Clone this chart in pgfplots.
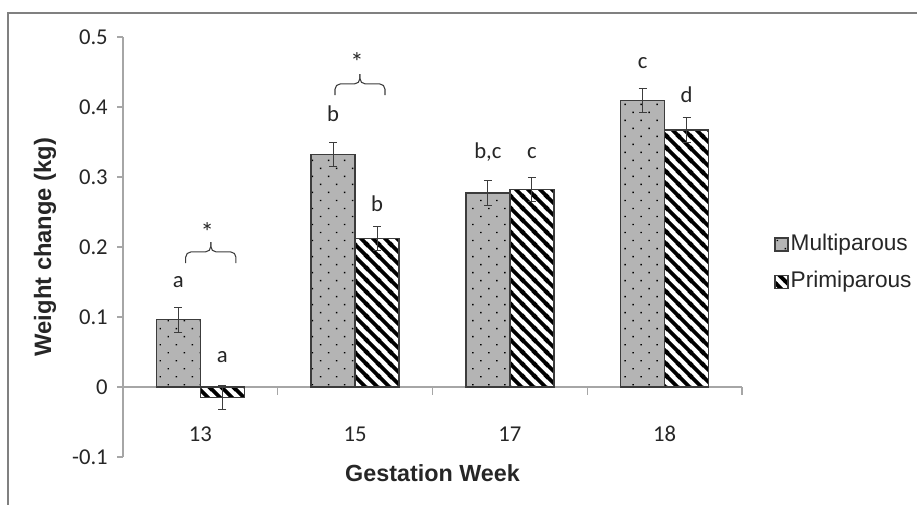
\documentclass[border=0pt]{standalone}
\usepackage{pgfplots}
\usepackage{pgfplotstable}
\pgfplotsset{compat=1.18}
\usepackage{fontspec}
\setmainfont{Carlito}
\newfontfamily\arial{Liberation Sans}
\usetikzlibrary{patterns.meta}
\definecolor{barGray}{HTML}{B4B4B4}
\definecolor{edge}{HTML}{3C3C3C}
\definecolor{axGray}{HTML}{A6A6A6}
\definecolor{frameGray}{HTML}{808080}
\definecolor{txt}{HTML}{262626}

\pgfdeclarepattern{
  name=wstripes, type=uncolored,
  bottom left={\pgfpoint{0pt}{0pt}}, top right={\pgfpoint{8.8pt}{8.8pt}},
  tile size={\pgfpoint{8.8pt}{8.8pt}},
  code={
    \pgfsetlinewidth{2.9pt}
    \pgfpathmoveto{\pgfpoint{-4.4pt}{4.4pt}}\pgfpathlineto{\pgfpoint{4.4pt}{-4.4pt}}
    \pgfpathmoveto{\pgfpoint{-0.5pt}{9.3pt}}\pgfpathlineto{\pgfpoint{9.3pt}{-0.5pt}}
    \pgfpathmoveto{\pgfpoint{4.4pt}{13.2pt}}\pgfpathlineto{\pgfpoint{13.2pt}{4.4pt}}
    \pgfusepath{stroke}
  }
}

\pgfplotstableread{
x y e
0 0.096 0.0175
1 0.332 0.0175
2 0.277 0.0175
3 0.409 0.0175
}\multi
\pgfplotstableread{
x y e
0 -0.015 0.0175
1 0.212 0.0175
2 0.282 0.0175
3 0.367 0.0175
}\primi

\begin{document}
\begin{tikzpicture}
\path[use as bounding box] (-92.25pt,-36pt) rectangle (595.5pt,342.75pt);
\draw[frameGray, line width=0.8pt] (-86.25pt,-40pt) -- (-86.25pt,333pt) -- (600pt,333pt);
\begin{axis}[
  at={(0,0)}, anchor=south west,
  scale only axis, width=464.25pt, height=315pt,
  xmin=-0.5, xmax=3.5, ymin=-0.1, ymax=0.5,
  ybar=0pt, bar width=33pt,
  axis y line*=left, axis x line*=bottom,
  x axis line style={draw=none},
  y axis line style={axGray, line width=0.8pt},
  xtick={0,1,2,3}, xticklabels={13,15,17,18},
  xtick style={draw=none},
  ytick={-0.1,0,0.1,0.2,0.3,0.4,0.5},
  yticklabels={-0.1,0,0.1,0.2,0.3,0.4,0.5},
  ytick style={axGray, line width=0.8pt},
  tick align=outside, major tick length=4.5pt,
  ticklabel style={font=\fontsize{17}{20}\selectfont, text=txt},
  yticklabel style={anchor=east, inner sep=0pt, xshift=-6.75pt},
  xticklabel style={anchor=base, inner sep=0pt, yshift=15.75pt},
  xlabel={Gestation Week}, ylabel={Weight change (kg)},
  every axis x label/.style={at={(axis description cs:0.5,-0.0588)}, anchor=base,
    font=\arial\bfseries\fontsize{17.5}{20}\selectfont, text=txt},
  every axis y label/.style={at={(axis description cs:-0.126,0.5)}, rotate=90, anchor=center,
    font=\arial\bfseries\fontsize{17.8}{20}\selectfont, text=txt},
  legend style={draw=none, fill=none, inner sep=0pt, outer sep=0pt,
    at={(axis description cs:1.0522,0.4614)}, anchor=west,
    font=\arial\fontsize{17}{20}\selectfont, text=txt,
    row sep=12pt, nodes={inner sep=0pt, text height=12.5pt, text depth=3.5pt}},
  legend cell align=left,
  /tikz/every odd column/.append style={column sep=1.5pt},
  legend image code/.code={\draw[#1] (0pt,-4.875pt) rectangle (9.75pt,4.875pt);},
  clip=false,
]
\draw[axGray, line width=0.8pt] (axis cs:-0.5,0) -- (axis cs:3.5,0);
\draw[axGray, line width=0.8pt] (axis cs:0.5,0) -- ++(0pt,-6pt);
\draw[axGray, line width=0.8pt] (axis cs:1.5,0) -- ++(0pt,-6pt);
\draw[axGray, line width=0.8pt] (axis cs:2.5,0) -- ++(0pt,-6pt);
\draw[axGray, line width=0.8pt] (axis cs:3.5,0) -- ++(0pt,-6pt);

\addplot[fill=barGray, draw=edge, line width=1pt,
  postaction={pattern={Dots[distance=8.5pt, angle=45, radius=0.75pt]}, pattern color=black},
  error bars/.cd, y dir=both, y explicit,
  error bar style={edge, line width=0.8pt},
  error mark options={rotate=90, edge, mark size=3pt, line width=0.8pt}]
  table[x=x, y=y, y error=e]{\multi};
\addlegendentry{Multiparous}
\addplot[fill=white, draw=edge, line width=1pt,
  postaction={pattern=wstripes, pattern color=black, draw=edge},
  error bars/.cd, y dir=both, y explicit,
  error bar style={edge, line width=0.8pt},
  error mark options={rotate=90, edge, mark size=3pt, line width=0.8pt}]
  table[x=x, y=y, y error=e]{\primi};
\addlegendentry{Primiparous}

\begin{scope}[every node/.style={font=\fontsize{17}{20}\selectfont, text=txt, anchor=base, inner sep=0pt}]
\node at (axis cs:-0.142,0.142) {a};
\node at (axis cs:0.142,0.035) {a};
\node at (axis cs:0.858,0.379) {b};
\node at (axis cs:1.142,0.250) {b};
\node at (axis cs:1.858,0.327) {b,c};
\node at (axis cs:2.142,0.327) {c};
\node at (axis cs:2.858,0.455) {c};
\node at (axis cs:3.142,0.406) {d};
\node[font=\fontsize{20}{22}\selectfont] at (axis cs:0.045,0.208) {*};
\node[font=\fontsize{20}{22}\selectfont] at (axis cs:1.012,0.451) {*};
\end{scope}
\draw[edge, line width=0.8pt, rounded corners=4pt] (axis cs:-0.095,0.177) -- (axis cs:-0.095,0.193) -- (axis cs:0.0675,0.193) -- (axis cs:0.0675,0.207);
\draw[edge, line width=0.8pt, rounded corners=4pt] (axis cs:0.230,0.177) -- (axis cs:0.230,0.193) -- (axis cs:0.0675,0.193) -- (axis cs:0.0675,0.207);
\draw[edge, line width=0.8pt, rounded corners=4pt] (axis cs:0.870,0.417) -- (axis cs:0.870,0.433) -- (axis cs:1.031,0.433) -- (axis cs:1.031,0.447);
\draw[edge, line width=0.8pt, rounded corners=4pt] (axis cs:1.193,0.417) -- (axis cs:1.193,0.433) -- (axis cs:1.031,0.433) -- (axis cs:1.031,0.447);
\end{axis}
\end{tikzpicture}
\end{document}
